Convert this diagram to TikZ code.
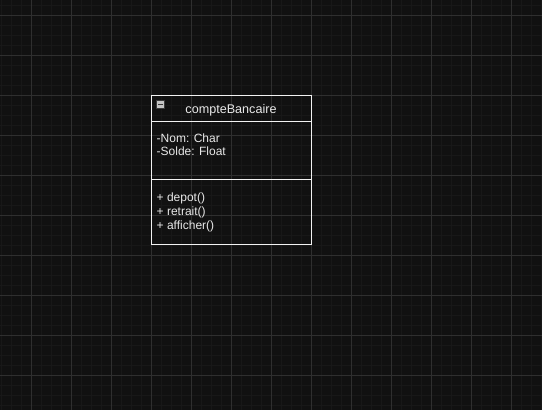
\documentclass[tikz,border=0pt]{standalone}
\usepackage{fontspec}
\setmainfont{Liberation Sans}
\definecolor{canvas}{HTML}{111111}
\definecolor{gridminor}{HTML}{181818}
\definecolor{gridmajor}{HTML}{2F2F2F}
\definecolor{umlfg}{HTML}{E8E8E8}
\definecolor{umlline}{HTML}{F2F2F2}
\definecolor{iconfill}{HTML}{C4C4C4}
\definecolor{icondark}{HTML}{3A3A3A}
\begin{document}
\begin{tikzpicture}[x=1pt,y=-1pt,minorline/.style={draw=gridminor,line width=1pt},majorline/.style={draw=gridmajor,line width=1pt},umlbox/.style={draw=umlline,line width=1pt},umltext/.style={anchor=base west,inner sep=0pt,text=umlfg,font=\fontsize{12}{14}\selectfont},umltitle/.style={umltext,anchor=base,font=\fontsize{12.6}{15}\selectfont}]
\def\bxa{151.5};
\def\bxb{311.5};
\def\bya{95.5};
\def\byb{121.5};
\def\byc{179.5};
\def\byd{244.5};
\def\tx{156.5};

\fill[canvas] (0,0) rectangle (542,410);
\useasboundingbox (0,0) rectangle (542,410);
\foreach \x in {1,11,...,541} \draw[minorline] (\x,0) -- (\x,410);
\foreach \y in {5,15,...,405} \draw[minorline] (0,\y) -- (542,\y);
\foreach \x in {31,71,...,511} \draw[majorline] (\x,0) -- (\x,410);
\foreach \y in {15,55,...,375} \draw[majorline] (0,\y) -- (542,\y);

\draw[umlbox] (\bxa,\bya) rectangle (\bxb,\byd);
\draw[umlbox] (\bxa,\byb) -- (\bxb,\byb);
\draw[umlbox] (\bxa,\byc) -- (\bxb,\byc);

\draw[icondark,fill=iconfill,line width=0.6pt] (156.3,100.3) rectangle (164.7,108.7);
\draw[icondark,line width=1.3pt] (158.3,104.5) -- (162.7,104.5);

\node[umltitle] (title) at (231,113) {compteBancaire};

\node[umltext] (nom) at (\tx,142) {-Nom: Char};
\node[umltext] (solde) at (\tx,155.5) {-Solde: Float};

\node[umltext] (depot) at (\tx,201) {+ depot()};
\node[umltext] (retrait) at (\tx,215) {+ retrait()};
\node[umltext] (afficher) at (\tx,229) {+ afficher()};
\end{tikzpicture}
\end{document}
